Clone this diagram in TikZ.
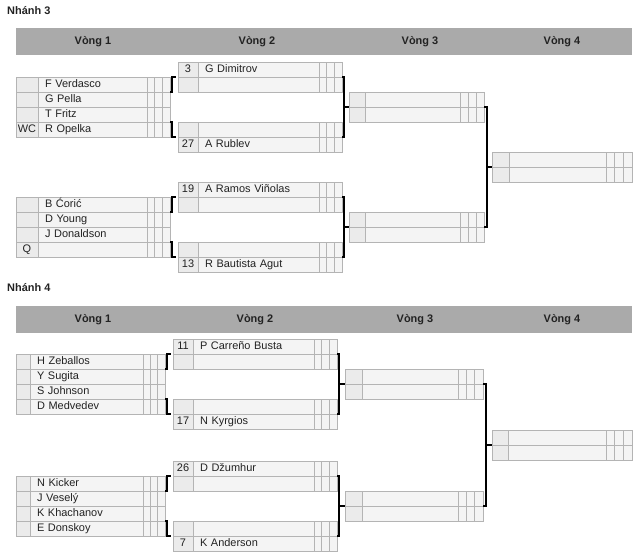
\documentclass[tikz,border=0pt]{standalone}
\usepackage{fontspec}
\setmainfont{Liberation Sans}
\usetikzlibrary{positioning}
\newlength{\pxu}
\setlength{\pxu}{0.03cm}
\definecolor{barcol}{HTML}{AAAAAA}
\definecolor{cellline}{HTML}{B4B4B4}
\definecolor{seedfill}{HTML}{EBEBEB}
\definecolor{namefill}{HTML}{F4F4F4}
\definecolor{inkcol}{HTML}{222222}
\newcommand{\drawfont}{\fontsize{9.35pt}{11pt}\selectfont}

\tikzset{
  cell/.style={draw=cellline, line width=0.6pt, inner sep=0pt, outer sep=0pt,
    minimum height=15\pxu, text height=8.5\pxu, text depth=2\pxu, font=\drawfont, text=inkcol},
  seedcell/.style={cell, fill=seedfill, anchor=north west},
  namecell/.style={cell, fill=namefill, inner xsep=7\pxu, align=left},
  scorecell/.style={cell, fill=namefill},
  headbar/.style={fill=barcol, inner sep=0pt, minimum height=27\pxu, minimum width=616\pxu, anchor=north west},
  headtxt/.style={font=\drawfont\bfseries, text=inkcol},
  branch/.style={font=\drawfont\bfseries, text=inkcol, anchor=west, inner sep=0pt},
  link/.style={draw=black, line width=1.6pt}
}

% column widths: seed, name, one score cell
\newcommand{\colgeom}[3]{\def\seedw{#1}\def\namew{#2}\def\scorew{#3}\pgfmathsetmacro\namet{#2-14}}
% one line of a draw: node name, top left corner, seed, player
\newcommand{\slotrow}[4]{%
  \node[seedcell, minimum width=\seedw\pxu] (#1s) at (#2) {#3};
  \node[namecell, minimum width=\namew\pxu, text width=\namet\pxu, right=0pt of #1s] (#1) {#4};
  \node[scorecell, minimum width=\scorew\pxu, right=0pt of #1] (#1x) {};
  \node[scorecell, minimum width=\scorew\pxu, right=0pt of #1x] (#1y) {};
  \node[scorecell, minimum width=\scorew\pxu, right=0pt of #1y] (#1z) {};
}

\begin{document}
\begin{tikzpicture}[x=0.03cm, y=-0.03cm]
\useasboundingbox (0,0) rectangle (640,559);

% Nhanh 3
\node[branch] (t3) at (7,11) {Nhánh 3};
\node[headbar] (hdr3) at (16,28) {};
\foreach \hx/\rn in {93/1,257/2,420/3,562/4}
  \node[headtxt] (hdr3v\rn) at (\hx,41.5) {Vòng \rn};

\colgeom{22}{109}{7.7}
\slotrow{n3a1}{16,77}{}{F Verdasco}
\slotrow{n3a2}{16,92}{}{G Pella}
\slotrow{n3a3}{16,107}{}{T Fritz}
\slotrow{n3a4}{16,122}{WC}{R Opelka}
\slotrow{n3a5}{16,197}{}{B Ćorić}
\slotrow{n3a6}{16,212}{}{D Young}
\slotrow{n3a7}{16,227}{}{J Donaldson}
\slotrow{n3a8}{16,242}{Q}{}

\colgeom{20}{121}{7.7}
\slotrow{n3b1}{178,62}{3}{G Dimitrov}
\slotrow{n3b2}{178,77}{}{}
\slotrow{n3b3}{178,122}{}{}
\slotrow{n3b4}{178,137}{27}{A Rublev}
\slotrow{n3b5}{178,182}{19}{A Ramos Viñolas}
\slotrow{n3b6}{178,197}{}{}
\slotrow{n3b7}{178,242}{}{}
\slotrow{n3b8}{178,257}{13}{R Bautista Agut}

\colgeom{16}{95}{8}
\slotrow{n3c1}{349,92}{}{}
\slotrow{n3c2}{349,107}{}{}
\slotrow{n3c3}{349,212}{}{}
\slotrow{n3c4}{349,227}{}{}

\colgeom{17}{97}{8.7}
\slotrow{n3d1}{492,152}{}{}
\slotrow{n3d2}{492,167}{}{}

\draw[link, shorten >=2\pxu] (n3a1z.south east) -- ++(2,0) |- (n3b2s.north west);
\draw[link, shorten >=2\pxu] (n3a3z.south east) -- ++(2,0) |- (n3b3s.south west);
\draw[link, shorten >=2\pxu] (n3a5z.south east) -- ++(2,0) |- (n3b6s.north west);
\draw[link, shorten >=2\pxu] (n3a7z.south east) -- ++(2,0) |- (n3b7s.south west);
\draw[link] (n3b1z.south east) -- ++(1.5,0) coordinate (j3a) |- (n3b3z.south east);
\draw[link] (j3a |- n3c1s.south west) -- (n3c1s.south west);
\draw[link] (n3b5z.south east) -- ++(1.5,0) coordinate (j3b) |- (n3b7z.south east);
\draw[link] (j3b |- n3c3s.south west) -- (n3c3s.south west);
\draw[link] (n3c1z.south east) -- ++(3,0) coordinate (j3c) |- (n3c3z.south east);
\draw[link] (j3c |- n3d1s.south west) -- (n3d1s.south west);

% Nhanh 4
\node[branch] (t4) at (7,288) {Nhánh 4};
\node[headbar] (hdr4) at (16,306) {};
\foreach \hx/\rn in {93/1,255/2,415/3,562/4}
  \node[headtxt] (hdr4v\rn) at (\hx,319.5) {Vòng \rn};

\colgeom{14}{113}{7.4}
\slotrow{n4a1}{16,354}{}{H Zeballos}
\slotrow{n4a2}{16,369}{}{Y Sugita}
\slotrow{n4a3}{16,384}{}{S Johnson}
\slotrow{n4a4}{16,399}{}{D Medvedev}
\slotrow{n4a5}{16,476}{}{N Kicker}
\slotrow{n4a6}{16,491}{}{J Veselý}
\slotrow{n4a7}{16,506}{}{K Khachanov}
\slotrow{n4a8}{16,521}{}{E Donskoy}

\colgeom{20}{121}{7.7}
\slotrow{n4b1}{173,339}{11}{P Carreño Busta}
\slotrow{n4b2}{173,354}{}{}
\slotrow{n4b3}{173,399}{}{}
\slotrow{n4b4}{173,414}{17}{N Kyrgios}
\slotrow{n4b5}{173,461}{26}{D Džumhur}
\slotrow{n4b6}{173,476}{}{}
\slotrow{n4b7}{173,521}{}{}
\slotrow{n4b8}{173,536}{7}{K Anderson}

\colgeom{17}{96}{8.3}
\slotrow{n4c1}{345,369}{}{}
\slotrow{n4c2}{345,384}{}{}
\slotrow{n4c3}{345,491}{}{}
\slotrow{n4c4}{345,506}{}{}

\colgeom{16}{98}{8.7}
\slotrow{n4d1}{492,430}{}{}
\slotrow{n4d2}{492,445}{}{}

\draw[link, shorten >=2\pxu] (n4a1z.south east) -- ++(2,0) |- (n4b2s.north west);
\draw[link, shorten >=2\pxu] (n4a3z.south east) -- ++(2,0) |- (n4b3s.south west);
\draw[link, shorten >=2\pxu] (n4a5z.south east) -- ++(2,0) |- (n4b6s.north west);
\draw[link, shorten >=2\pxu] (n4a7z.south east) -- ++(2,0) |- (n4b7s.south west);
\draw[link] (n4b1z.south east) -- ++(2,0) coordinate (j4a) |- (n4b3z.south east);
\draw[link] (j4a |- n4c1s.south west) -- (n4c1s.south west);
\draw[link] (n4b5z.south east) -- ++(2,0) coordinate (j4b) |- (n4b7z.south east);
\draw[link] (j4b |- n4c3s.south west) -- (n4c3s.south west);
\draw[link] (n4c1z.south east) -- ++(3,0) coordinate (j4c) |- (n4c3z.south east);
\draw[link] (j4c |- n4d1s.south west) -- (n4d1s.south west);
\end{tikzpicture}
\end{document}
